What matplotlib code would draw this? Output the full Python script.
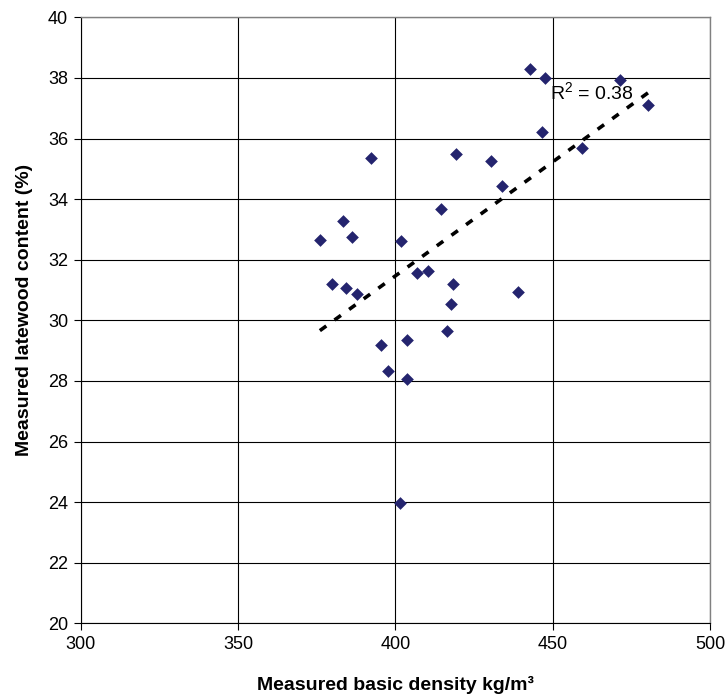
import numpy as np
import matplotlib
matplotlib.use("Agg")
import matplotlib.pyplot as plt

plt.rcParams['font.family'] = ['Liberation Sans', 'DejaVu Sans']
plt.rcParams['mathtext.default'] = 'regular'

# basic density (kg/m3) and latewood content (%)
density = [376.0, 379.9, 383.3, 384.4, 386.3, 387.9, 392.4, 395.4, 397.8, 401.4,
           401.9, 403.7, 403.7, 406.8, 410.4, 414.4, 416.4, 417.8, 418.3, 419.4,
           430.4, 433.8, 438.9, 442.7, 446.7, 447.5, 459.4, 471.4, 480.4]
latewood = [32.66, 31.21, 33.28, 31.06, 32.76, 30.86, 35.35, 29.18, 28.32, 23.96,
            32.61, 29.35, 28.05, 31.57, 31.62, 33.68, 29.66, 30.54, 31.21, 35.50,
            35.25, 34.42, 30.94, 38.29, 36.22, 37.99, 35.70, 37.94, 37.11]
r2_label = "R$^2$ = 0.38"

x_ticks = [300, 350, 400, 450, 500]
y_ticks = [20, 22, 24, 26, 28, 30, 32, 34, 36, 38, 40]

fig = plt.figure(figsize=(7.28, 6.99), dpi=100)
ax = fig.add_axes([0.1109, 0.1083, 0.8644, 0.8669])

ax.scatter(density, latewood, marker='D', s=42, color='#24246E', zorder=3, linewidths=0)

# linear trendline
coef = np.polyfit(density, latewood, 1)
xs = np.array([min(density), max(density)])
ax.plot(xs, np.polyval(coef, xs), color='black', lw=2.6, linestyle=(0, (2.2, 2.8)), zorder=2)

ax.text(449.2, 37.53, r2_label, fontsize=14, va='center', ha='left', zorder=4)

ax.set_xlim(300, 500)
ax.set_ylim(20, 40)
ax.set_xticks(x_ticks)
ax.set_yticks(y_ticks)
ax.grid(True, color='black', linewidth=0.8)
ax.set_axisbelow(True)
ax.tick_params(direction='out', length=5, width=0.8, labelsize=13, pad=4)

for side in ['top', 'right']:
    ax.spines[side].set_color('#808080')
    ax.spines[side].set_linewidth(1.0)
for side in ['left', 'bottom']:
    ax.spines[side].set_color('black')
    ax.spines[side].set_linewidth(0.8)

ax.set_xlabel("Measured basic density kg/m\u00b3", fontsize=14, fontweight='bold', labelpad=17)
ax.set_ylabel("Measured latewood content (%)", fontsize=14, fontweight='bold')
ax.yaxis.set_label_coords(-0.076, 0.517)

fig.savefig("out.png", dpi=100)
